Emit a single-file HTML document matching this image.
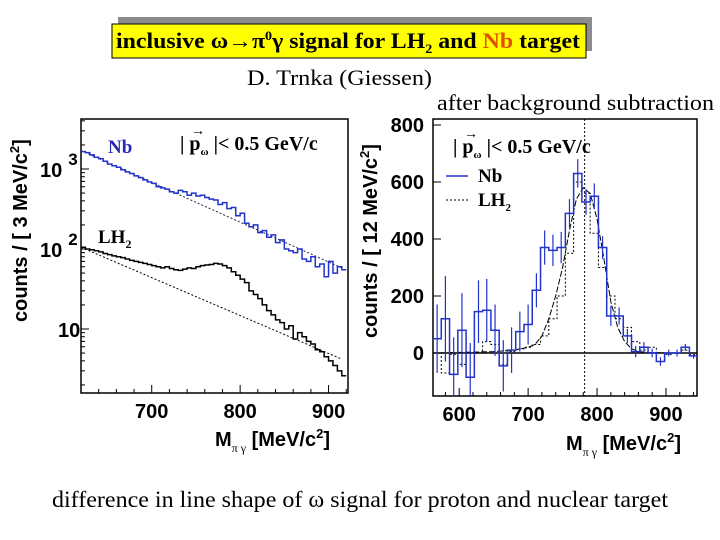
<!DOCTYPE html>
<html><head><meta charset="utf-8"><style>
html,body{margin:0;padding:0;background:#fff;width:720px;height:540px;overflow:hidden;font-family:"Liberation Serif",serif}
svg{position:absolute;left:0;top:0}
</style></head><body>
<svg width="720" height="540" id="s">
  <rect x="118" y="17" width="474" height="34" fill="#8c8c8c"/>
  <rect x="112" y="24" width="474" height="34" fill="#ffff00" stroke="#000" stroke-width="1"/>
  <text x="116" y="48" textLength="464" lengthAdjust="spacingAndGlyphs" font-size="22" font-weight="bold" font-family="Liberation Serif,serif">inclusive ω→π<tspan font-size="13" dy="-8">0</tspan><tspan dy="8">γ signal for LH</tspan><tspan font-size="13" dy="5">2</tspan><tspan dy="-5"> and </tspan><tspan fill="#e05000">Nb</tspan> target</text>
  <text x="247" y="85" textLength="185" lengthAdjust="spacingAndGlyphs" font-size="22">D. Trnka (Giessen)</text>
  <text x="437" y="110" textLength="277" lengthAdjust="spacingAndGlyphs" font-size="22">after background subtraction</text>
  <text x="52" y="507" textLength="616" lengthAdjust="spacingAndGlyphs" font-size="23">difference in line shape of ω signal for proton and nuclear target</text>
  <g id="L"></g><g id="R"></g>
</svg>
<script>
// ---- left panel data (5 MeV steps starting 620) ----
const leftMassStart = [620];
const nbCounts = [1650,1600,1500,1400,1350,1250,1150,1100,1050,980,920,880,820,780,730,690,660,600,580,560,520,500,540,520,470,500,460,470,440,420,410,360,380,320,330,260,280,210,190,200,160,170,140,150,120,130,100,95,90,100,75,70,80,60,65,45,70,50,60,55];
const lh2Counts = [105,100,98,95,92,88,85,82,80,78,75,72,70,68,66,64,62,60,58,60,57,55,54,56,58,57,60,62,63,64,66,65,62,58,52,47,42,38,30,27,24,20,17,15,13,12,10,11,7.5,9,8,7,6.5,5.5,5.2,4.5,4,3.5,3,2.6];
const nbBkg = [[620,1700],[915,58]];
const lh2Bkg = [[620,105],[915,4.2]];
const leftXTicks = [700,800,900];
const leftYTicks = [10,100,1000];
// ---- right panel data (12 MeV bins starting 550) ----
const rightMassStart = [550];
const nbSub = [45,50,120,-75,80,-85,145,150,80,-45,10,75,100,220,370,360,370,490,630,530,550,370,130,130,60,5,20,0,-30,0,0,20,-10,-15];
const nbErr = [150,120,150,130,130,120,110,110,90,90,80,70,70,60,60,55,55,50,50,45,45,40,35,30,25,20,18,15,15,12,12,12,10,10];
const lh2Sub = [-100,0,-70,-5,-40,0,0,40,30,-40,5,15,20,30,60,120,200,350,600,560,420,300,200,120,90,40,10,20,0,-5,0,10,-5,0];
const fitMass = [562,600,650,680,700,710,720,730,740,750,760,770,780,790,800,810,820,830,840,850,860,880,900,945];
const fitVal = [0,2,5,10,20,30,60,120,200,300,430,540,580,560,470,330,180,90,40,15,5,1,0,0];
const rightXTicks = [600,700,800,900];
const rightYTicks = [0,200,400,600,800];
const NS='http://www.w3.org/2000/svg';
function mk(p,t,a){const e=document.createElementNS(NS,t);for(const k in a)e.setAttribute(k,a[k]);p.appendChild(e);return e;}
const lx=m=>81+(m-620)*(267/302);
const ly=v=>249-80*Math.log10(v/100);
const L=document.getElementById('L');
let e;
e=mk(L,'clipPath',{id:'lc'});mk(e,'rect',{x:81,y:119,width:267,height:274});
e=mk(L,'rect',{x:81,y:119,width:267,height:274,fill:'none',stroke:'#000','stroke-width':1.5});


leftXTicks.forEach(t=>{
  e=mk(L,'text',{x:lx(t),y:418,'text-anchor':'middle','font-size':20,'font-weight':'bold','font-family':'Liberation Sans,sans-serif'});e.textContent=t;
  
  
});
for(let m=640;m<=920;m+=20){mk(L,'line',{x1:lx(m),x2:lx(m),y1:393,y2:m%100==0?385:389,stroke:'#000'});}
leftYTicks.forEach(t=>{
  e=mk(L,'text',{x:t==10?58:40,y:ly(t)+8,'font-size':20,'font-weight':'bold','font-family':'Liberation Sans,sans-serif'});
  e.textContent='10';
  if(t>10){const s=mk(e,'tspan',{dx:6,dy:-12,'font-size':17});s.textContent=t==100?'2':'3';}
  
  
  mk(L,'line',{x1:81,x2:89,y1:ly(t),y2:ly(t),stroke:'#000'});
});
for(const d of [1,10,100,1000])for(let k=2;k<=9;k++){const v=d*k;const y=ly(v);if(y>120&&y<392)mk(L,'line',{x1:81,x2:85,y1:y,y2:y,stroke:'#000'});}
function stepPath(arr,x0,w,fx,fy){let d='';arr.forEach((v,i)=>{const a=fx(x0+i*w),b=fx(x0+(i+1)*w),y=fy(v);d+=(i?'L':'M')+a+','+y+'L'+b+','+y;});return d;}
const lg=mk(L,'g',{'clip-path':'url(#lc)'});
e=mk(lg,'path',{d:'M'+lx(nbBkg[0][0])+','+ly(nbBkg[0][1])+'L'+lx(nbBkg[1][0])+','+ly(nbBkg[1][1]),stroke:'#224',fill:'none','stroke-dasharray':'2,2'});


e=mk(lg,'path',{d:'M'+lx(lh2Bkg[0][0])+','+ly(lh2Bkg[0][1])+'L'+lx(lh2Bkg[1][0])+','+ly(lh2Bkg[1][1]),stroke:'#000',fill:'none','stroke-dasharray':'2,2'});


e=mk(lg,'path',{d:stepPath(nbCounts,leftMassStart[0],5,lx,ly),stroke:'#2233cc',fill:'none','stroke-width':1.5});


e=mk(lg,'path',{d:stepPath(lh2Counts,leftMassStart[0],5,lx,ly),stroke:'#000',fill:'none','stroke-width':1.5});


e=mk(L,'text',{x:108,y:153,'font-size':19,'font-weight':'bold',fill:'#2a2ab0'});e.textContent='Nb';

e=mk(L,'text',{x:98,y:243,'font-size':19,'font-weight':'bold'});e.textContent='LH';mk(e,'tspan',{dy:5,'font-size':12}).textContent='2';

e=mk(L,'text',{x:180,y:150,'font-size':20,'font-weight':'bold'});e.textContent='| p';mk(e,'tspan',{dy:5,'font-size':11}).textContent='ω';mk(e,'tspan',{dy:-5}).textContent=' |< 0.5 GeV/c';

mk(L,'text',{x:191,y:135,'font-size':14,'font-weight':'bold'}).textContent='→';
e=mk(L,'text',{x:215,y:446,'font-size':20,'font-weight':'bold','font-family':'Liberation Sans,sans-serif'});e.textContent='M';mk(e,'tspan',{dy:6,'font-size':12,'font-family':'Liberation Serif,serif','font-weight':'normal'}).textContent='π γ';mk(e,'tspan',{dy:-6}).textContent=' [MeV/c';mk(e,'tspan',{dy:-8,'font-size':13}).textContent='2';mk(e,'tspan',{dy:8}).textContent=']';

e=mk(L,'text',{transform:'translate(27,322) rotate(-90)','font-size':20,'font-weight':'bold','font-family':'Liberation Sans,sans-serif'});e.textContent='counts / [ 3 MeV/c';mk(e,'tspan',{dy:-8,'font-size':13}).textContent='2';mk(e,'tspan',{dy:8}).textContent=']';

// right panel
const rx=m=>433+(m-562)*(264/383);
const ry=v=>353-v*(57/200);
const R=document.getElementById('R');
e=mk(R,'rect',{x:433,y:119,width:264,height:277,fill:'none',stroke:'#000','stroke-width':1.5});

e=mk(R,'clipPath',{id:'rc'});mk(e,'rect',{x:433,y:119,width:264,height:277});
rightXTicks.forEach(t=>{
  e=mk(R,'text',{x:rx(t),y:421,'text-anchor':'middle','font-size':20,'font-weight':'bold','font-family':'Liberation Sans,sans-serif'});e.textContent=t;
  
});
for(let m=580;m<=940;m+=20)mk(R,'line',{x1:rx(m),x2:rx(m),y1:396,y2:m%100==0?388:392,stroke:'#000'});
rightYTicks.forEach(t=>{
  e=mk(R,'text',{x:424,y:ry(t)+7,'text-anchor':'end','font-size':20,'font-weight':'bold','font-family':'Liberation Sans,sans-serif'});e.textContent=t;
  
  mk(R,'line',{x1:433,x2:441,y1:ry(t),y2:ry(t),stroke:'#000'});
});
const g=mk(R,'g',{'clip-path':'url(#rc)'});
e=mk(g,'line',{x1:433,x2:697,y1:ry(0),y2:ry(0),stroke:'#000','stroke-width':1.5});

e=mk(g,'line',{x1:rx(782),x2:rx(782),y1:119,y2:396,stroke:'#000','stroke-dasharray':'2,2'});

e=mk(g,'path',{d:stepPath(lh2Sub,rightMassStart[0],12,rx,ry),stroke:'#000',fill:'none','stroke-dasharray':'2,2'});

e=mk(g,'path',{d:fitMass.map((m,i)=>(i?'L':'M')+rx(m)+','+ry(fitVal[i])).join(''),stroke:'#000',fill:'none','stroke-dasharray':'6,2'});

e=mk(g,'path',{d:stepPath(nbSub,rightMassStart[0],12,rx,ry),stroke:'#2233cc',fill:'none','stroke-width':1.5});

nbSub.forEach((v,i)=>{const x=rx(rightMassStart[0]+i*12+6);
  e=mk(g,'line',{x1:x,x2:x,y1:ry(v-nbErr[i]),y2:ry(v+nbErr[i]),stroke:'#2233cc','stroke-width':1.2});
  });
e=mk(R,'text',{x:453,y:153,'font-size':20,'font-weight':'bold'});e.textContent='| p';mk(e,'tspan',{dy:5,'font-size':11}).textContent='ω';mk(e,'tspan',{dy:-5}).textContent=' |< 0.5 GeV/c';

mk(R,'text',{x:464,y:138,'font-size':14,'font-weight':'bold'}).textContent='→';
mk(R,'line',{x1:446,x2:468,y1:176,y2:176,stroke:'#2233cc','stroke-width':1.5});
e=mk(R,'text',{x:478,y:182,'font-size':19,'font-weight':'bold'});e.textContent='Nb';

mk(R,'line',{x1:446,x2:468,y1:200,y2:200,stroke:'#000','stroke-dasharray':'2,2'});
e=mk(R,'text',{x:478,y:206,'font-size':19,'font-weight':'bold'});e.textContent='LH';mk(e,'tspan',{dy:5,'font-size':11}).textContent='2';

e=mk(R,'text',{x:566,y:450,'font-size':20,'font-weight':'bold','font-family':'Liberation Sans,sans-serif'});e.textContent='M';mk(e,'tspan',{dy:6,'font-size':12,'font-family':'Liberation Serif,serif','font-weight':'normal'}).textContent='π γ';mk(e,'tspan',{dy:-6}).textContent=' [MeV/c';mk(e,'tspan',{dy:-8,'font-size':13}).textContent='2';mk(e,'tspan',{dy:8}).textContent=']';

e=mk(R,'text',{transform:'translate(377,338) rotate(-90)','font-size':20,'font-weight':'bold','font-family':'Liberation Sans,sans-serif'});e.textContent='counts / [ 12 MeV/c';mk(e,'tspan',{dy:-8,'font-size':13}).textContent='2';mk(e,'tspan',{dy:8}).textContent=']';

</script>
</body></html>
